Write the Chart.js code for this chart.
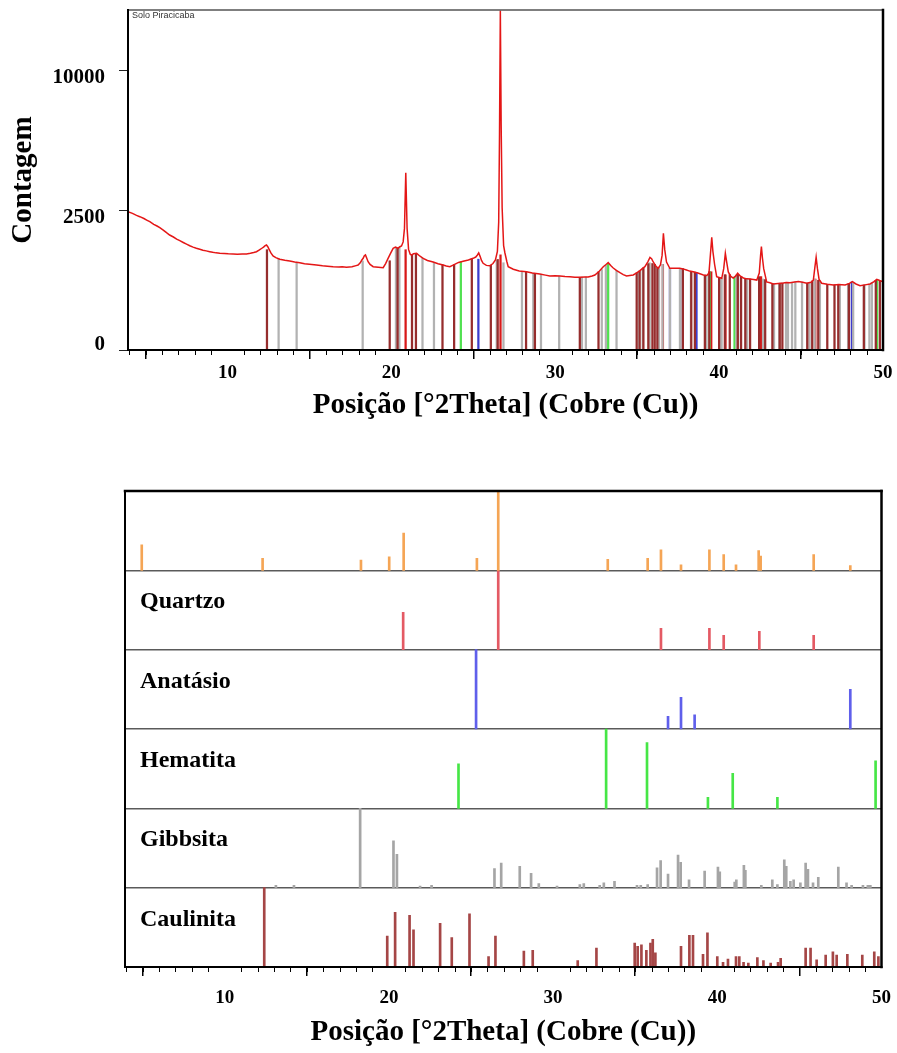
<!DOCTYPE html>
<html><head><meta charset="utf-8">
<script src="https://cdn.jsdelivr.net/npm/chart.js@4.4.1/dist/chart.umd.min.js"></script>
<style>
html,body{margin:0;padding:0;background:#fff;}
#wrap{position:relative;width:897px;height:1053px;overflow:hidden;}
canvas{position:absolute;left:0;}
#c1{top:0;} #c2{top:440px;}
</style></head><body>
<div id="wrap"><canvas id="c1" width="897" height="440"></canvas><canvas id="c2" width="897" height="613"></canvas></div>
<script>
// ---------- DATA ----------
const twoTheta = [3.93,4.2,4.45,4.65,4.9,5.1,5.26,5.5,5.7,5.87,6.1,6.3,6.47,6.7,6.9,7.09,7.3,7.5,7.7,7.9,8.1,8.31,8.5,8.7,8.92,9.1,9.3,9.53,9.8,10.05,10.34,10.6,10.9,11.16,11.4,11.6,11.77,11.95,12.1,12.2,12.3,12.38,12.46,12.54,12.65,12.78,12.95,13.19,13.5,13.8,14.1,14.41,14.7,15.0,15.43,15.8,16.1,16.45,16.8,17.0,17.26,17.6,17.85,17.97,18.1,18.2,18.28,18.35,18.42,18.5,18.58,18.7,18.89,19.2,19.5,19.65,19.8,19.95,20.11,20.25,20.41,20.52,20.62,20.72,20.8,20.88,20.96,21.05,21.15,21.23,21.35,21.54,21.75,21.94,22.2,22.55,22.85,23.16,23.35,23.57,23.8,24.1,24.38,24.7,24.99,25.15,25.25,25.33,25.42,25.5,25.6,25.8,26.01,26.2,26.35,26.47,26.55,26.6,26.65,26.7,26.76,26.85,26.93,27.05,27.13,27.44,27.8,28.25,28.6,29.06,29.4,29.67,30.0,30.28,30.6,30.89,31.2,31.5,31.8,32.01,32.25,32.42,32.7,32.93,33.1,33.23,33.4,33.54,33.75,33.95,34.15,34.35,34.55,34.76,34.97,35.17,35.35,35.47,35.65,35.78,35.88,35.98,36.15,36.28,36.42,36.52,36.6,36.68,36.79,36.99,37.3,37.6,37.8,38.01,38.2,38.42,38.7,39.04,39.25,39.38,39.49,39.55,39.62,39.72,39.85,40.0,40.16,40.28,40.38,40.46,40.56,40.7,40.86,41.0,41.13,41.3,41.48,41.69,41.88,42.1,42.3,42.45,42.53,42.58,42.64,42.72,42.9,43.1,43.31,43.6,43.92,44.1,44.33,44.6,44.84,45.1,45.35,45.6,45.75,45.85,45.92,46.0,46.1,46.26,46.6,46.97,47.3,47.69,47.95,48.13,48.35,48.6,48.9,49.21,49.45,49.62,49.8,50.0];
const counts = [2460,2400,2330,2283,2220,2160,2115,2030,1975,1922,1840,1760,1699,1640,1580,1535,1485,1440,1397,1360,1330,1303,1280,1262,1241,1225,1212,1201,1195,1188,1184,1178,1186,1184,1200,1220,1241,1285,1330,1360,1400,1416,1370,1303,1210,1135,1095,1057,1035,1018,995,979,955,945,928,910,900,891,885,890,879,890,915,928,975,1040,1080,1140,1159,1080,1002,940,891,880,870,960,1080,1200,1329,1360,1329,1371,1390,1500,1900,4040,1900,1300,1180,1159,1190,1201,1130,1080,1030,995,955,928,905,891,930,985,1010,1040,1080,1110,1160,1210,1120,1030,966,920,910,960,1040,1250,2100,6000,14800,6500,2600,1400,1209,1000,891,837,800,788,760,742,720,703,710,703,695,690,682,679,686,685,705,723,800,891,940,980,910,864,810,768,730,703,712,723,765,808,860,891,1000,1100,1070,995,900,857,930,1150,1750,1300,995,857,860,857,845,822,800,788,760,723,715,760,1285,1632,1250,950,690,675,660,850,1201,1000,782,700,666,700,756,700,666,650,648,640,629,760,1150,1371,1100,850,594,580,560,570,577,585,582,595,603,590,572,590,629,900,1104,850,640,572,555,543,550,543,570,599,560,531,545,560,600,642,620,599];

const yTickCounts = [0, 2500, 10000];
const xTickLabels = [10, 20, 30, 40, 50];
const phaseLabels = ['Quartzo', 'Anatásio', 'Hematita', 'Gibbsita', 'Caulinita'];

// peak list (top strip, no label)
const peakListPos = [4.95,12.31,18.3,20.02,20.9,25.36,26.66,33.33,35.76,36.57,37.79,39.52,40.39,41.14,42.52,42.64,45.87,48.1];
const peakListInt = [32,15,13,17,47,15,100,14,15,26,7,26,20,7,25,18,20,6];

const quartzoPos = [20.87,26.66,36.57,39.52,40.39,42.56,45.87];
const quartzoInt = [47,100,27,27,18,23,18];

const anatasioPos = [25.31,37.0,37.79,38.62,48.1];
const anatasioInt = [100,16,40,18,50];

const hematitaPos = [24.24,33.23,35.72,39.43,40.94,43.66,49.64];
const hematitaInt = [56,100,83,14,44,14,60];

const gibbsitaPos = [13.12,14.22,18.25,20.28,20.49,21.9,22.6,26.43,26.84,27.97,28.66,29.13,30.24,31.63,31.87,32.84,33.09,33.74,35.11,35.34,35.76,36.33,36.55,37.0,37.61,37.77,38.28,39.23,40.04,40.15,41.06,41.16,41.62,41.71,42.68,43.35,43.66,44.08,44.2,44.45,44.65,45.06,45.38,45.52,45.83,46.15,47.37,47.87,48.18,48.87,49.17,49.32];
const gibbsitaInt = [3,3,100,59,42,2,3,24,31,27,18,5,2,4,5,3,6,8,3,3,4,25,34,17,41,32,10,21,26,20,7,10,28,22,3,10,4,35,27,8,10,6,31,23,6,13,26,6,3,3,3,3];

const caulinitaPos = [12.41,19.9,20.38,21.26,21.5,23.12,23.83,24.91,26.07,26.49,28.22,28.76,31.5,32.64,34.97,35.15,35.38,35.68,35.93,36.07,36.23,37.79,38.3,38.52,39.13,39.4,40.0,40.35,40.65,41.14,41.34,41.6,41.89,42.44,42.81,43.25,43.7,43.86,45.38,45.68,46.05,46.6,47.04,47.27,47.92,48.83,49.56,49.81];
const caulinitaInt = [100,39,69,65,47,55,37,67,13,39,20,21,8,24,30,26,28,21,30,35,18,26,40,40,16,43,13,6,10,13,13,6,5,12,8,5,6,11,24,24,9,15,19,15,16,15,19,13];

// ---------- HELPERS ----------
const SERIF = '"Liberation Serif", "Times New Roman", serif';
const X_MIN = 3.93, X_MAX = 50, Y_MAX_COUNTS = 14850;

function curveAt(x) {
  for (let i = 1; i < twoTheta.length; i++) {
    if (x <= twoTheta[i]) {
      const t = (x - twoTheta[i-1]) / (twoTheta[i] - twoTheta[i-1]);
      return counts[i-1] + t * (counts[i] - counts[i-1]);
    }
  }
  return counts[counts.length - 1];
}
function localMin(x, w) {
  let m = Math.min(curveAt(x - w), curveAt(x + w));
  twoTheta.forEach((t, i) => { if (t >= x - w && t <= x + w) m = Math.min(m, counts[i]); });
  return m;
}
function stickTop(x) { return Math.min(curveAt(x), 1.1 * localMin(x, 0.3)); }

const topPhases = [
  {pos: caulinitaPos, color: 'rgb(150,45,45)'},
  {pos: gibbsitaPos, color: 'rgb(178,178,178)'},
  {pos: hematitaPos, color: 'rgb(80,225,80)'},
  {pos: anatasioPos, color: 'rgb(60,60,205)'},
  {pos: quartzoPos, color: 'rgb(215,25,25)'}
];

function minorTicks(chart, len) {
  const {ctx, scales: {x}, chartArea: {bottom}} = chart;
  ctx.save();
  ctx.strokeStyle = '#000';
  ctx.lineWidth = 1;
  for (let d = 4; d <= 49; d++) {
    if (d % 10 === 0) continue;
    const px = Math.round(x.getPixelForValue(d)) + 0.5;
    ctx.beginPath(); ctx.moveTo(px, bottom); ctx.lineTo(px, bottom + len); ctx.stroke();
  }
  ctx.restore();
}
function frame(chart, topColor, topWidth) {
  const {ctx, chartArea: {left, right, top, bottom}} = chart;
  ctx.save();
  ctx.lineCap = 'square';
  const seg = (x1, y1, x2, y2, c, w) => { ctx.strokeStyle = c; ctx.lineWidth = w; ctx.beginPath(); ctx.moveTo(x1, y1); ctx.lineTo(x2, y2); ctx.stroke(); };
  seg(left, top, right, top, topColor, topWidth);
  seg(right, top, right, bottom, '#000', 2.5);
  seg(left, top, left, bottom, '#000', 2);
  seg(left, bottom, right, bottom, '#000', 2);
  ctx.restore();
}

// ---------- TOP CHART ----------
const topDatasets = [{
  type: 'line',
  data: twoTheta.map((t, i) => ({x: t, y: Math.sqrt(counts[i])})),
  borderColor: 'rgb(228,22,22)',
  borderWidth: 1.5,
  pointRadius: 0,
  tension: 0,
  order: 0
}];
topPhases.forEach((ph, k) => {
  topDatasets.push({
    type: 'bar',
    data: ph.pos.map(p => ({x: p, y: Math.sqrt(stickTop(p))})),
    backgroundColor: ph.color,
    barThickness: 1.6,
    grouped: false,
    order: 1 + k
  });
});

new Chart(document.getElementById('c1'), {
  type: 'line',
  data: {datasets: topDatasets},
  options: {
    responsive: false, animation: false, devicePixelRatio: 1,
    layout: {padding: {left: 0, right: 14, top: 10, bottom: 0}},
    plugins: {legend: {display: false}, tooltip: {enabled: false}},
    scales: {
      x: {
        type: 'linear', min: X_MIN, max: X_MAX, offset: false,
        afterFit: s => { s.height = 90; s.paddingLeft = 0; s.paddingRight = 0; },
        afterBuildTicks: s => { s.ticks = xTickLabels.map(v => ({value: v})); },
        grid: {display: true, drawOnChartArea: false, drawTicks: true, tickLength: 9, color: '#000', lineWidth: 1.5},
        border: {display: false},
        ticks: {font: {family: SERIF, size: 19, weight: 'bold', lineHeight: 1.2}, color: '#000', padding: 3, maxRotation: 0, autoSkip: false, callback: v => String(v)},
        title: {display: true, text: 'Posição [°2Theta] (Cobre (Cu))', color: '#000', font: {family: SERIF, size: 29, weight: 'bold', lineHeight: 1.2}, padding: {top: 0, bottom: 16.6}}
      },
      y: {
        type: 'linear', min: 0, max: Math.sqrt(Y_MAX_COUNTS),
        afterFit: s => { s.width = 128; s.paddingTop = 0; s.paddingBottom = 0; },
        afterBuildTicks: s => { s.ticks = yTickCounts.map(c => ({value: Math.sqrt(c)})); },
        grid: {display: true, drawOnChartArea: false, drawTicks: true, tickLength: 9, color: '#222', lineWidth: 1},
        border: {display: false},
        ticks: {font: {family: SERIF, size: 21, weight: 'bold', lineHeight: 1.2}, color: '#000', padding: 14, labelOffset: 7,
          callback: v => { const c = Math.round(v * v); return c === 0 ? ['0', ''] : String(c); }},
        title: {display: true, text: 'Contagem', color: '#000', font: {family: SERIF, size: 29, weight: 'bold', lineHeight: 1.2}, padding: {top: 6.6, bottom: 0}}
      }
    }
  },
  plugins: [{
    id: 'topDecor',
    afterDatasetsDraw(chart) {
      frame(chart, '#555', 1.5);
      minorTicks(chart, 5);
      const {ctx, chartArea: {left, top}} = chart;
      ctx.save();
      ctx.font = '9px "Liberation Sans", Arial, sans-serif';
      ctx.fillStyle = '#333';
      ctx.textBaseline = 'top';
      ctx.fillText('Solo Piracicaba', left + 4, top + 1);
      ctx.restore();
    }
  }]
});

// ---------- BOTTOM CHART ----------
const bottomPhases = [
  {pos: peakListPos, int: peakListInt, color: 'rgb(245,165,85)'},
  {pos: quartzoPos, int: quartzoInt, color: 'rgb(228,90,100)'},
  {pos: anatasioPos, int: anatasioInt, color: 'rgb(95,95,235)'},
  {pos: hematitaPos, int: hematitaInt, color: 'rgb(70,230,70)'},
  {pos: gibbsitaPos, int: gibbsitaInt, color: 'rgb(165,165,165)'},
  {pos: caulinitaPos, int: caulinitaInt, color: 'rgb(165,70,70)'}
];
const NP = bottomPhases.length;
const bottomDatasets = bottomPhases.map((ph, k) => {
  const base = NP - 1 - k;
  return {
    type: 'bar',
    data: ph.pos.map((p, i) => ({x: p, y: [base, base + ph.int[i] / 100]})),
    backgroundColor: ph.color,
    barThickness: 2,
    grouped: false
  };
});

new Chart(document.getElementById('c2'), {
  type: 'bar',
  data: {datasets: bottomDatasets},
  options: {
    responsive: false, animation: false, devicePixelRatio: 1,
    layout: {padding: {left: 0, right: 15.5, top: 51, bottom: 0}},
    plugins: {legend: {display: false}, tooltip: {enabled: false}},
    scales: {
      x: {
        type: 'linear', min: X_MIN, max: X_MAX, offset: false,
        afterFit: s => { s.height = 86; s.paddingLeft = 0; s.paddingRight = 0; },
        afterBuildTicks: s => { s.ticks = xTickLabels.map(v => ({value: v})); },
        grid: {display: true, drawOnChartArea: false, drawTicks: true, tickLength: 9, color: '#000', lineWidth: 1.5},
        border: {display: false},
        ticks: {font: {family: SERIF, size: 19, weight: 'bold', lineHeight: 1.2}, color: '#000', padding: 10.6, maxRotation: 0, autoSkip: false, callback: v => String(v)},
        title: {display: true, text: 'Posição [°2Theta] (Cobre (Cu))', color: '#000', font: {family: SERIF, size: 29, weight: 'bold', lineHeight: 1.2}, padding: {top: 0, bottom: 2.6}}
      },
      y: {
        type: 'linear', min: 0, max: NP,
        afterFit: s => { s.width = 125; s.paddingTop = 0; s.paddingBottom = 0; },
        afterBuildTicks: s => { s.ticks = Array.from({length: NP + 1}, (_, i) => ({value: i})); },
        grid: {display: true, drawTicks: false, lineWidth: 1.5,
          color: c => (c.tick && c.tick.value > 0 && c.tick.value < NP) ? '#5a5a5a' : 'rgba(0,0,0,0)'},
        border: {display: false},
        ticks: {display: false}
      }
    }
  },
  plugins: [{
    id: 'bottomDecor',
    afterDatasetsDraw(chart) {
      frame(chart, '#000', 2.5);
      minorTicks(chart, 5);
      const {ctx, scales: {y}} = chart;
      ctx.save();
      ctx.font = 'bold 24px ' + SERIF;
      ctx.fillStyle = '#000';
      ctx.textBaseline = 'alphabetic';
      phaseLabels.forEach((lab, i) => {
        const panelTop = y.getPixelForValue(NP - 1 - i);
        ctx.fillText(lab, 140, panelTop + 38);
      });
      ctx.restore();
    }
  }]
});
</script>
</body></html>
